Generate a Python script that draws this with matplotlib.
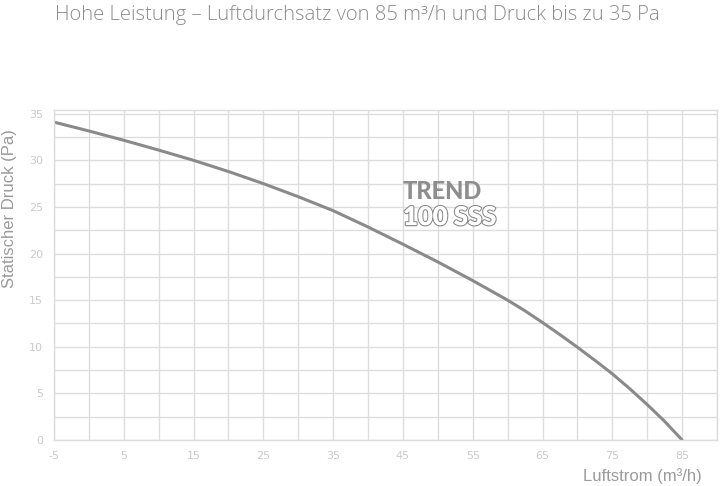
import matplotlib
matplotlib.use("Agg")
import matplotlib.pyplot as plt
import matplotlib.patheffects as pe

# airflow (m3/h) vs static pressure (Pa)
airflow = [-5, 0, 5, 10, 15, 20, 25, 30, 35, 40, 45, 47.5, 50, 52.5, 55, 57.5,
           60, 62.5, 65, 67.5, 70, 72.5, 75, 77.5, 80, 82.5, 85]
pressure = [34.1, 33.15, 32.15, 31.1, 30.0, 28.8, 27.5, 26.1, 24.6, 22.85, 21.0,
            20.05, 19.1, 18.1, 17.1, 16.05, 15.0, 13.85, 12.6, 11.3, 9.95, 8.55,
            7.1, 5.5, 3.8, 2.0, 0.0]

x_ticks = list(range(-5, 91, 5))
x_labels = [str(v) if (v + 5) % 10 == 0 and v < 90 else "" for v in x_ticks]
y_ticks = [i * 2.5 for i in range(15)]
y_labels = [str(int(v)) if v % 5 == 0 else "" for v in y_ticks]

grid_col = "#dddddd"
tick_col = "#cacaca"
label_col = "#9a9a9a"

fig = plt.figure(figsize=(7.2, 4.86), dpi=100)
ax = fig.add_axes([54 / 720, 46 / 486, 663 / 720, 330 / 486])

ax.plot(airflow, pressure, color="#8a8a8a", lw=2.2, solid_capstyle="round",
        solid_joinstyle="round")

ax.set_xlim(-5, 90)
ax.set_ylim(0, 35.4)
ax.set_xticks(x_ticks)
ax.set_xticklabels(x_labels)
ax.set_yticks(y_ticks)
ax.set_yticklabels(y_labels)
ax.tick_params(length=0, colors=tick_col, labelsize=8, pad=8)
ax.grid(True, color=grid_col, lw=1)
ax.set_axisbelow(True)
for s in ax.spines.values():
    s.set_color(grid_col)
    s.set_linewidth(1)

fig.text(10 / 720, 1 - 209 / 486, "Statischer Druck (Pa)", rotation=90,
         ha="center", va="center", color=label_col, fontsize=12,
         family="Liberation Sans")
fig.text(702 / 720, 1 - 476 / 486, "Luftstrom (m\u00b3/h)", ha="right",
         va="center", color=label_col, fontsize=12, family="Liberation Sans")

fig.text(55 / 720, 1 - 15 / 486,
         "Hohe Leistung \u2013 Luftdurchsatz von 85 m\u00b3/h und Druck bis zu 35 Pa",
         ha="left", va="center", color="#8c8c8c", fontsize=14.6,
         family="Open Sans", fontweight="light")

# product logo
ax.text(403 / 720, 1 - 191 / 486, "TREND", transform=fig.transFigure,
        ha="left", va="center", color="#8d8d8d", fontsize=17,
        family="Lato", fontweight="black")
ax.text(403 / 720, 1 - 217 / 486, "100 SSS", transform=fig.transFigure,
        ha="left", va="center", color="white", fontsize=18.5,
        family="Lato", fontweight="black",
        path_effects=[pe.withStroke(linewidth=1.8, foreground="#8d8d8d"),
                      pe.Normal()])

fig.savefig("out.png", dpi=100)
